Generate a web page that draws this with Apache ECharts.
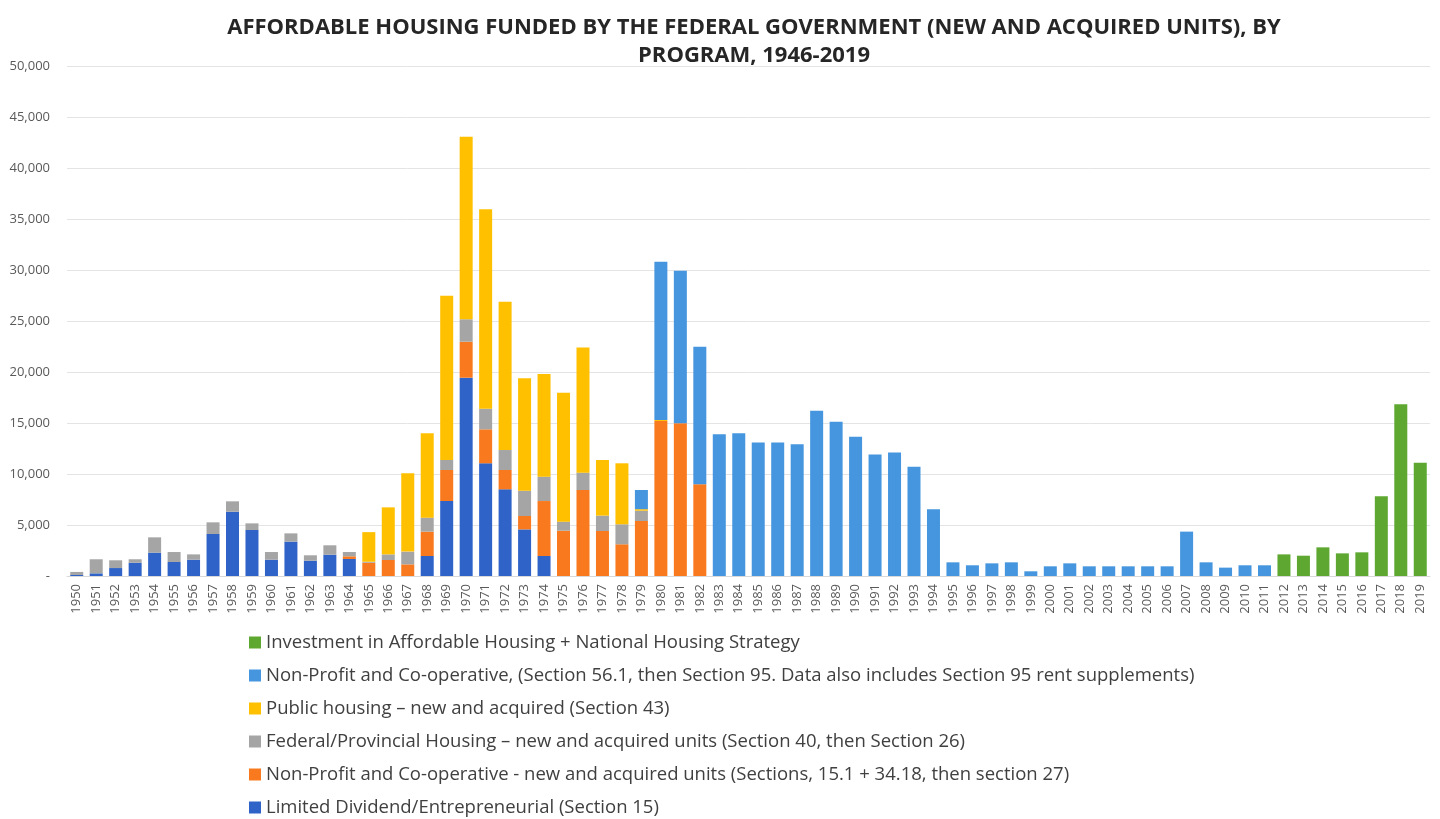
<!DOCTYPE html>
<html>
<head>
<meta charset="utf-8">
<title>Affordable housing funded by the federal government</title>
<script src="https://cdn.jsdelivr.net/npm/echarts@6/dist/echarts.min.js"></script>
<style>
  html, body { margin: 0; padding: 0; background: #ffffff; }
  #chart { width: 1440px; height: 819px; }
</style>
</head>
<body>
<div id="chart"></div>
<script>
// Years on the category axis
const years = [
  '1950','1951','1952','1953','1954','1955','1956','1957','1958','1959',
  '1960','1961','1962','1963','1964','1965','1966','1967','1968','1969',
  '1970','1971','1972','1973','1974','1975','1976','1977','1978','1979',
  '1980','1981','1982','1983','1984','1985','1986','1987','1988','1989',
  '1990','1991','1992','1993','1994','1995','1996','1997','1998','1999',
  '2000','2001','2002','2003','2004','2005','2006','2007','2008','2009',
  '2010','2011','2012','2013','2014','2015','2016','2017','2018','2019'
];

// Units per program, one value per year (stack order: bottom to top)
const limitedDividend = [
  100,260,780,1300,2290,1370,1600,4120,6300,4510,
  1600,3370,1500,2090,1670,0,0,0,1960,7350,
  19440,11050,8500,4570,1960,0,0,0,0,0,
  0,0,0,0,0,0,0,0,0,0,
  0,0,0,0,0,0,0,0,0,0,
  0,0,0,0,0,0,0,0,0,0,
  0,0,0,0,0,0,0,0,0,0
];
const nonProfitCoop = [
  0,0,0,0,0,0,0,0,0,0,
  0,0,0,0,260,1300,1570,1140,2390,3040,
  3530,3330,1890,1310,5390,4440,8430,4410,3110,5390,
  15200,14970,8990,0,0,0,0,0,0,0,
  0,0,0,0,0,0,0,0,0,0,
  0,0,0,0,0,0,0,0,0,0,
  0,0,0,0,0,0,0,0,0,0
];
const federalProvincial = [
  300,1380,760,340,1500,980,520,1140,1020,650,
  750,810,530,920,420,100,550,1250,1370,980,
  2200,2020,1960,2490,2390,890,1700,1510,1960,1010,
  0,0,0,0,0,0,0,0,0,0,
  0,0,0,0,0,0,0,0,0,0,
  0,0,0,0,0,0,0,0,0,0,
  0,0,0,0,0,0,0,0,0,0
];
const publicHousing = [
  0,0,0,0,0,0,0,0,0,0,
  0,0,0,0,0,2900,4610,7680,8270,16110,
  17900,19550,14540,11010,10060,12640,12260,5450,5980,150,
  100,0,0,0,0,0,0,0,0,0,
  0,0,0,0,0,0,0,0,0,0,
  0,0,0,0,0,0,0,0,0,0,
  0,0,0,0,0,0,0,0,0,0
];
const section95 = [
  0,0,0,0,0,0,0,0,0,0,
  0,0,0,0,0,0,0,0,0,0,
  0,0,0,0,0,0,0,0,0,1880,
  15520,14960,13490,13890,13990,13100,13100,12910,16210,15130,
  13660,11900,12120,10720,6540,1340,1050,1240,1340,460,
  950,1240,950,950,950,950,950,4350,1340,820,
  1050,1050,0,0,0,0,0,0,0,0
];
const nationalStrategy = [
  0,0,0,0,0,0,0,0,0,0,
  0,0,0,0,0,0,0,0,0,0,
  0,0,0,0,0,0,0,0,0,0,
  0,0,0,0,0,0,0,0,0,0,
  0,0,0,0,0,0,0,0,0,0,
  0,0,0,0,0,0,0,0,0,0,
  0,0,2120,1990,2810,2220,2320,7810,16830,11110
];

// Series names as shown in the legend
const names = {
  ld: 'Limited Dividend/Entrepreneurial (Section 15)',
  npc: 'Non-Profit and Co-operative - new and acquired units (Sections, 15.1 + 34.18, then section 27)',
  fp: 'Federal/Provincial Housing \u2013 new and acquired units (Section 40, then Section 26)',
  ph: 'Public housing \u2013 new and acquired (Section 43)',
  s95: 'Non-Profit and Co-operative, (Section 56.1, then Section 95. Data also includes Section 95 rent supplements)',
  iah: 'Investment in Affordable Housing + National Housing Strategy'
};

const colors = {
  ld: '#2F63C8',
  npc: '#F97A1E',
  fp: '#A5A5A5',
  ph: '#FFC000',
  s95: '#4596DE',
  iah: '#5EA831'
};

function stackBar(key, values) {
  return {
    name: names[key],
    type: 'bar',
    stack: 'units',
    data: values,
    barWidth: 13,
    itemStyle: { color: colors[key] },
    emphasis: { disabled: true }
  };
}

const chart = echarts.init(document.getElementById('chart'), null, { renderer: 'canvas' });

chart.setOption({
  backgroundColor: '#ffffff',
  animation: false,
  textStyle: { fontFamily: 'Open Sans' },
  title: {
    text: 'AFFORDABLE HOUSING FUNDED BY THE FEDERAL GOVERNMENT (NEW AND ACQUIRED UNITS), BY\nPROGRAM, 1946-2019',
    left: 749,
    top: 9,
    textAlign: 'center',
    textStyle: {
      fontFamily: 'Open Sans',
      fontWeight: 'bold',
      fontSize: 22,
      lineHeight: 28,
      color: '#262626',
      align: 'center'
    }
  },
  legend: {
    orient: 'vertical',
    left: 244,
    top: 628,
    height: 190,
    itemWidth: 12,
    itemHeight: 12,
    itemGap: 14,
    icon: 'rect',
    selectedMode: false,
    data: [names.iah, names.s95, names.ph, names.fp, names.npc, names.ld],
    textStyle: {
      fontFamily: 'Open Sans',
      fontSize: 18.5,
      lineHeight: 17,
      color: '#404040'
    }
  },
  grid: {
    left: 67,
    right: 10,
    top: 66,
    bottom: 243,
    containLabel: false
  },
  xAxis: {
    type: 'category',
    data: years,
    axisTick: { show: false },
    axisLine: { lineStyle: { color: '#D9D9D9', width: 1 } },
    axisLabel: {
      rotate: 90,
      interval: 0,
      margin: 8,
      fontSize: 13,
      color: '#595959',
      fontFamily: 'Open Sans'
    }
  },
  yAxis: {
    type: 'value',
    min: 0,
    max: 50000,
    interval: 5000,
    axisLine: { show: false },
    axisTick: { show: false },
    splitLine: { lineStyle: { color: '#E4E4E4', width: 1 } },
    axisLabel: {
      margin: 17,
      fontSize: 13,
      color: '#595959',
      fontFamily: 'Open Sans',
      formatter: function (v) {
        return v === 0 ? '-' : v.toLocaleString('en-US');
      }
    }
  },
  series: [
    stackBar('ld', limitedDividend),
    stackBar('npc', nonProfitCoop),
    stackBar('fp', federalProvincial),
    stackBar('ph', publicHousing),
    stackBar('s95', section95),
    stackBar('iah', nationalStrategy)
  ]
});
</script>
</body>
</html>
